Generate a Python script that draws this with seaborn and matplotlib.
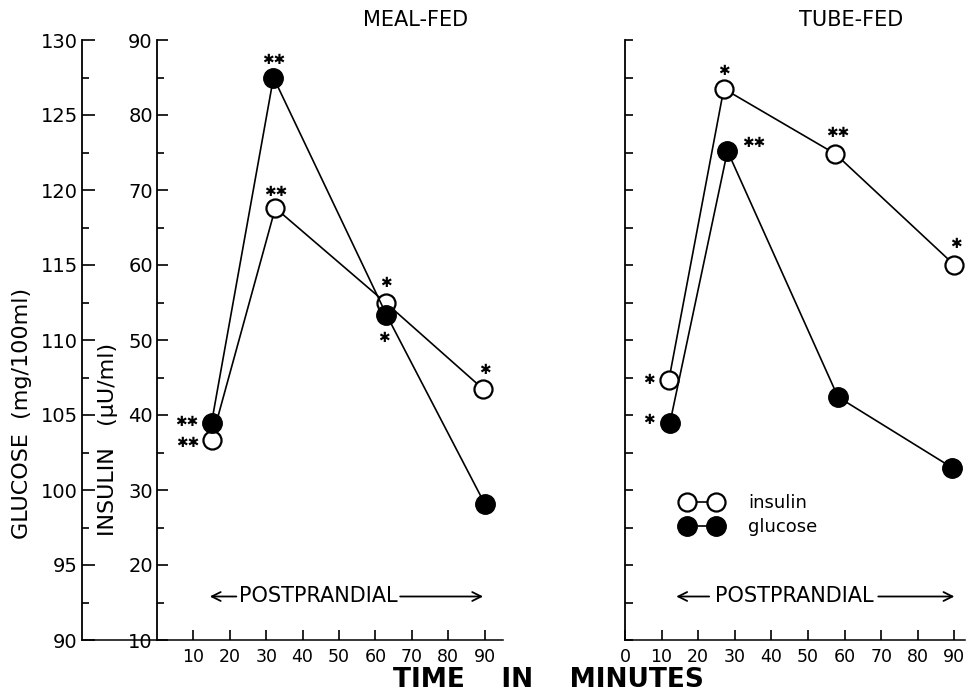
import matplotlib
matplotlib.use("Agg")
import matplotlib.pyplot as plt
import seaborn as sns
from matplotlib.lines import Line2D
from matplotlib.ticker import MultipleLocator

# -------------------------------
# Data
# -------------------------------
meal_time_ins = [15, 32.5, 63, 89.5]
meal_insulin = [36.7, 67.6, 54.9, 43.5]
meal_time_glu = [15, 32, 63, 90]
meal_glucose = [104.5, 127.5, 111.7, 99.1]

tube_time_ins = [12, 27, 57.5, 90]
tube_insulin = [44.7, 83.5, 74.8, 60.0]
tube_time_glu = [12.3, 28, 58.2, 89.3]
tube_glucose = [104.5, 122.6, 106.2, 101.5]

meal_ticks = [10, 20, 30, 40, 50, 60, 70, 80, 90]
tube_ticks = [0, 10, 20, 30, 40, 50, 60, 70, 80, 90]
glucose_ticks = [90, 95, 100, 105, 110, 115, 120, 125, 130]
insulin_ticks = [10, 20, 30, 40, 50, 60, 70, 80, 90]

# significance marks: (panel, series, point index, label, dx px, dy px)
stars = [
    ("meal", "glu", 0, "✱✱", -25, 0),
    ("meal", "ins", 0, "✱✱", -24, -3),
    ("meal", "glu", 1, "✱✱", 0, 17),
    ("meal", "ins", 1, "✱✱", 0, 16),
    ("meal", "ins", 2, "✱", 0, 20),
    ("meal", "glu", 2, "✱", -2, -24),
    ("meal", "ins", 3, "✱", 2, 19),
    ("tube", "ins", 0, "✱", -20, 0),
    ("tube", "glu", 0, "✱", -21, 2),
    ("tube", "ins", 1, "✱", 0, 18),
    ("tube", "glu", 1, "✱✱", 26, 8),
    ("tube", "ins", 2, "✱✱", 2, 21),
    ("tube", "ins", 3, "✱", 2, 21),
]

# postprandial bracket (minutes): text centre, left tip, left start, right start, right tip
bracket = {
    "meal": (44.2, 14.5, 21.8, 66.8, 89.6),
    "tube": (46.2, 14.0, 23.0, 69.2, 90.0),
}

sns.set_style("ticks")
plt.rcParams["font.family"] = ["DejaVu Sans"]
plt.rcParams.update({
    "text.color": "black",
    "axes.labelcolor": "black",
    "axes.edgecolor": "black",
    "xtick.color": "black",
    "ytick.color": "black",
})

W, H = 968, 696
fig = plt.figure(figsize=(W / 100, H / 100), dpi=100)
bottom = (H - 640) / H
height = 600 / H

def fx(px):
    return px / W

def fy(py):
    return (H - py) / H

# -------------------------------
# Glucose axis (far left)
# -------------------------------
ax_g = fig.add_axes([fx(82), bottom, fx(157 - 82), height])
ax_g.set_ylim(90, 130)
ax_g.set_xticks([])
ax_g.set_yticks(glucose_ticks)
ax_g.yaxis.set_minor_locator(MultipleLocator(2.5))
for s in ["top", "right"]:
    ax_g.spines[s].set_visible(False)
ax_g.spines["left"].set_linewidth(1.3)
ax_g.spines["bottom"].set_linewidth(1.1)
ax_g.tick_params(axis="y", which="major", direction="in", length=9, width=1.2, labelsize=14, pad=3)
ax_g.tick_params(axis="y", which="minor", direction="in", length=5, width=1.2)

# -------------------------------
# Panels
# -------------------------------
ax1 = fig.add_axes([fx(157), bottom, fx(95 * 3.64), height])
ax2 = fig.add_axes([fx(625), bottom, fx(93 * 3.66), height])
ax1.set_xlim(0, 95)
ax2.set_xlim(0, 93)

panels = {}
for name, ax, t_ins, ins, t_glu, glu in [
    ("meal", ax1, meal_time_ins, meal_insulin, meal_time_glu, meal_glucose),
    ("tube", ax2, tube_time_ins, tube_insulin, tube_time_glu, tube_glucose),
]:
    ax.set_ylim(10, 90)
    axt = ax.twinx()
    axt.set_ylim(90, 130)
    axt.axis("off")

    sns.lineplot(x=t_ins, y=ins, ax=ax, color="black", lw=1.2, marker="o",
                 markersize=13, markerfacecolor="white", markeredgecolor="black",
                 markeredgewidth=1.6, zorder=3)
    sns.lineplot(x=t_glu, y=glu, ax=axt, color="black", lw=1.2, marker="o",
                 markersize=14, markerfacecolor="black", markeredgecolor="black",
                 markeredgewidth=1.0, zorder=3)

    for s in ["top", "right"]:
        ax.spines[s].set_visible(False)
    ax.spines["left"].set_linewidth(1.3)
    ax.spines["bottom"].set_linewidth(1.1)
    ax.tick_params(axis="both", direction="in", width=1.2, labelsize=12.5)
    ax.tick_params(axis="x", length=7, pad=6)
    panels[name] = {"ax": ax, "ins": (ax, t_ins, ins), "glu": (axt, t_glu, glu)}

    # postprandial bracket
    mid, l_tip, l_start, r_start, r_tip = bracket[name]
    yb = 15.8
    ax.text(mid, yb, "POSTPRANDIAL", ha="center", va="center", fontsize=15)
    ax.annotate("", xy=(l_tip, yb), xytext=(l_start, yb),
                arrowprops=dict(arrowstyle="->", lw=1.3, color="black",
                                mutation_scale=16, shrinkA=0, shrinkB=0))
    ax.annotate("", xy=(r_tip, yb), xytext=(r_start, yb),
                arrowprops=dict(arrowstyle="->", lw=1.3, color="black",
                                mutation_scale=16, shrinkA=0, shrinkB=0))

ax1.set_xticks(meal_ticks)
ax1.set_yticks(insulin_ticks)
ax1.yaxis.set_minor_locator(MultipleLocator(5))
ax1.tick_params(axis="y", which="major", length=8, labelsize=14, pad=3)
ax1.tick_params(axis="y", which="minor", direction="in", length=5, width=1.2)

ax2.set_xticks(tube_ticks)
ax2.set_yticks(list(range(10, 91, 5)))
ax2.set_yticklabels([])
ax2.tick_params(axis="y", length=6)

for ax in (ax1, ax2):
    ax.set_xlabel("")
    ax.set_ylabel("")

# significance stars
for panel, series, i, label, dx, dy in stars:
    a, xs, ys = panels[panel][series]
    a.annotate(label, xy=(xs[i], ys[i]), xytext=(dx * 0.72, dy * 0.72),
               textcoords="offset points", ha="center", va="center",
               fontsize=10, color="black", zorder=5)

# legend
handles = [
    Line2D([], [], color="black", lw=1.2, marker="o", markersize=13,
           markerfacecolor="white", markeredgecolor="black", markeredgewidth=1.6),
    Line2D([], [], color="black", lw=1.2, marker="o", markersize=14,
           markerfacecolor="black", markeredgecolor="black"),
]
fig.legend(handles, ["insulin", "glucose"], loc="center left",
           bbox_to_anchor=(fx(682), fy(515)), frameon=False, numpoints=2,
           handlelength=2.2, handletextpad=1.45, labelspacing=0.35,
           borderpad=0, borderaxespad=0, fontsize=13)

# texts
fig.text(fx(416), fy(20), "MEAL-FED", ha="center", va="center", fontsize=15)
fig.text(fx(851), fy(20), "TUBE-FED", ha="center", va="center", fontsize=15)
fig.text(fx(548), fy(680), "TIME    IN    MINUTES", ha="center", va="center",
         fontsize=19, fontweight="bold")
fig.text(fx(22), fy(413), "GLUCOSE  (mg/100ml)", rotation=90, ha="center",
         va="center", fontsize=16)
fig.text(fx(108), fy(439), "INSULIN   (µU/ml)", rotation=90, ha="center",
         va="center", fontsize=16)

fig.savefig("out.png", dpi=100)
